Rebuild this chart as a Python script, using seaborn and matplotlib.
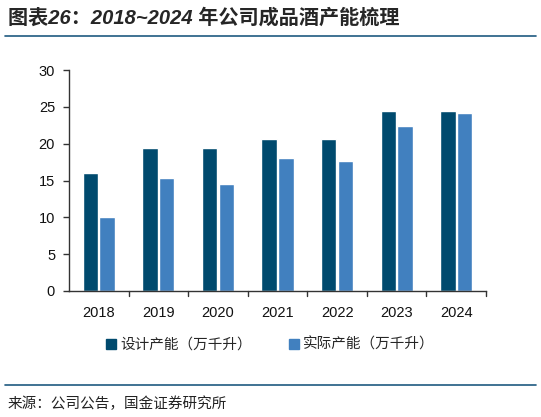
import pandas as pd
import matplotlib.pyplot as plt
import seaborn as sns
from matplotlib.lines import Line2D
from matplotlib.patches import Patch

# data
years = ['2018', '2019', '2020', '2021', '2022', '2023', '2024']
design_cap = [16.0, 19.4, 19.4, 20.6, 20.6, 24.5, 24.5]
actual_cap = [10.0, 15.3, 14.5, 18.0, 17.6, 22.4, 24.1]
series_names = ['设计产能（万千升）', '实际产能（万千升）']
colors = ['#004a6e', '#4180bf']

df = pd.DataFrame({'year': years * 2,
                   'value': design_cap + actual_cap,
                   'series': [series_names[0]] * 7 + [series_names[1]] * 7})

sns.set_theme(style='white')
plt.rcParams['font.family'] = ['Liberation Sans', 'Noto Sans CJK SC', 'DejaVu Sans']

fig = plt.figure(figsize=(5.41, 4.17), dpi=100)
ax = fig.add_axes([69 / 541, 1 - 291 / 417, (486 - 69) / 541, (291 - 70) / 417])

sns.barplot(data=df, x='year', y='value', hue='series', palette=colors,
            width=0.56, gap=0.08, saturation=1, ax=ax, legend=False)

ax.set_ylim(0, 30)
ax.set_yticks(range(0, 31, 5))
ax.set_xlim(-0.5, 6.5)
ax.set_xlabel('')
ax.set_ylabel('')
for s in ['top', 'right']:
    ax.spines[s].set_visible(False)
for s in ['left', 'bottom']:
    ax.spines[s].set_color('#333333')
    ax.spines[s].set_linewidth(1.0)
ax.tick_params(axis='y', left=True, length=4, width=1, color='#333333',
               labelsize=10.5, pad=6, labelcolor='#111111')
ax.tick_params(axis='x', bottom=False, labelsize=10.5, pad=5, labelcolor='#111111')
# boundary ticks between categories
for xb in [i - 0.5 for i in range(1, 8)]:
    ax.plot([xb, xb], [0, -0.7], color='#333333', lw=1, clip_on=False)

handles = [Patch(color=c) for c in colors]
fig.legend(handles, series_names, loc='center', bbox_to_anchor=(0.5, 1 - 345 / 417),
           ncol=2, frameon=False, handlelength=0.7, handleheight=0.7,
           handletextpad=0.3, columnspacing=2.5,
           prop={'family': ['Noto Sans CJK SC'], 'size': 10.5})

fig.text(8 / 541, 1 - 18 / 417, '图表26：2018~2024 年公司成品酒产能梳理',
         ha='left', va='center', fontsize=14.5, fontweight='bold', style='italic',
         family=['Liberation Sans', 'Noto Sans CJK SC'])
fig.add_artist(Line2D([5 / 541, 536 / 541], [1 - 36 / 417] * 2, color='#1f5a80', lw=1.2))
fig.add_artist(Line2D([5 / 541, 536 / 541], [1 - 385 / 417] * 2, color='#1f5a80', lw=1.2))
fig.text(8 / 541, 1 - 404 / 417, '来源：公司公告，国金证券研究所', ha='left', va='center',
         fontsize=10.5, family=['Noto Sans CJK SC'], color='#222222')

fig.savefig('out.png', dpi=100)
